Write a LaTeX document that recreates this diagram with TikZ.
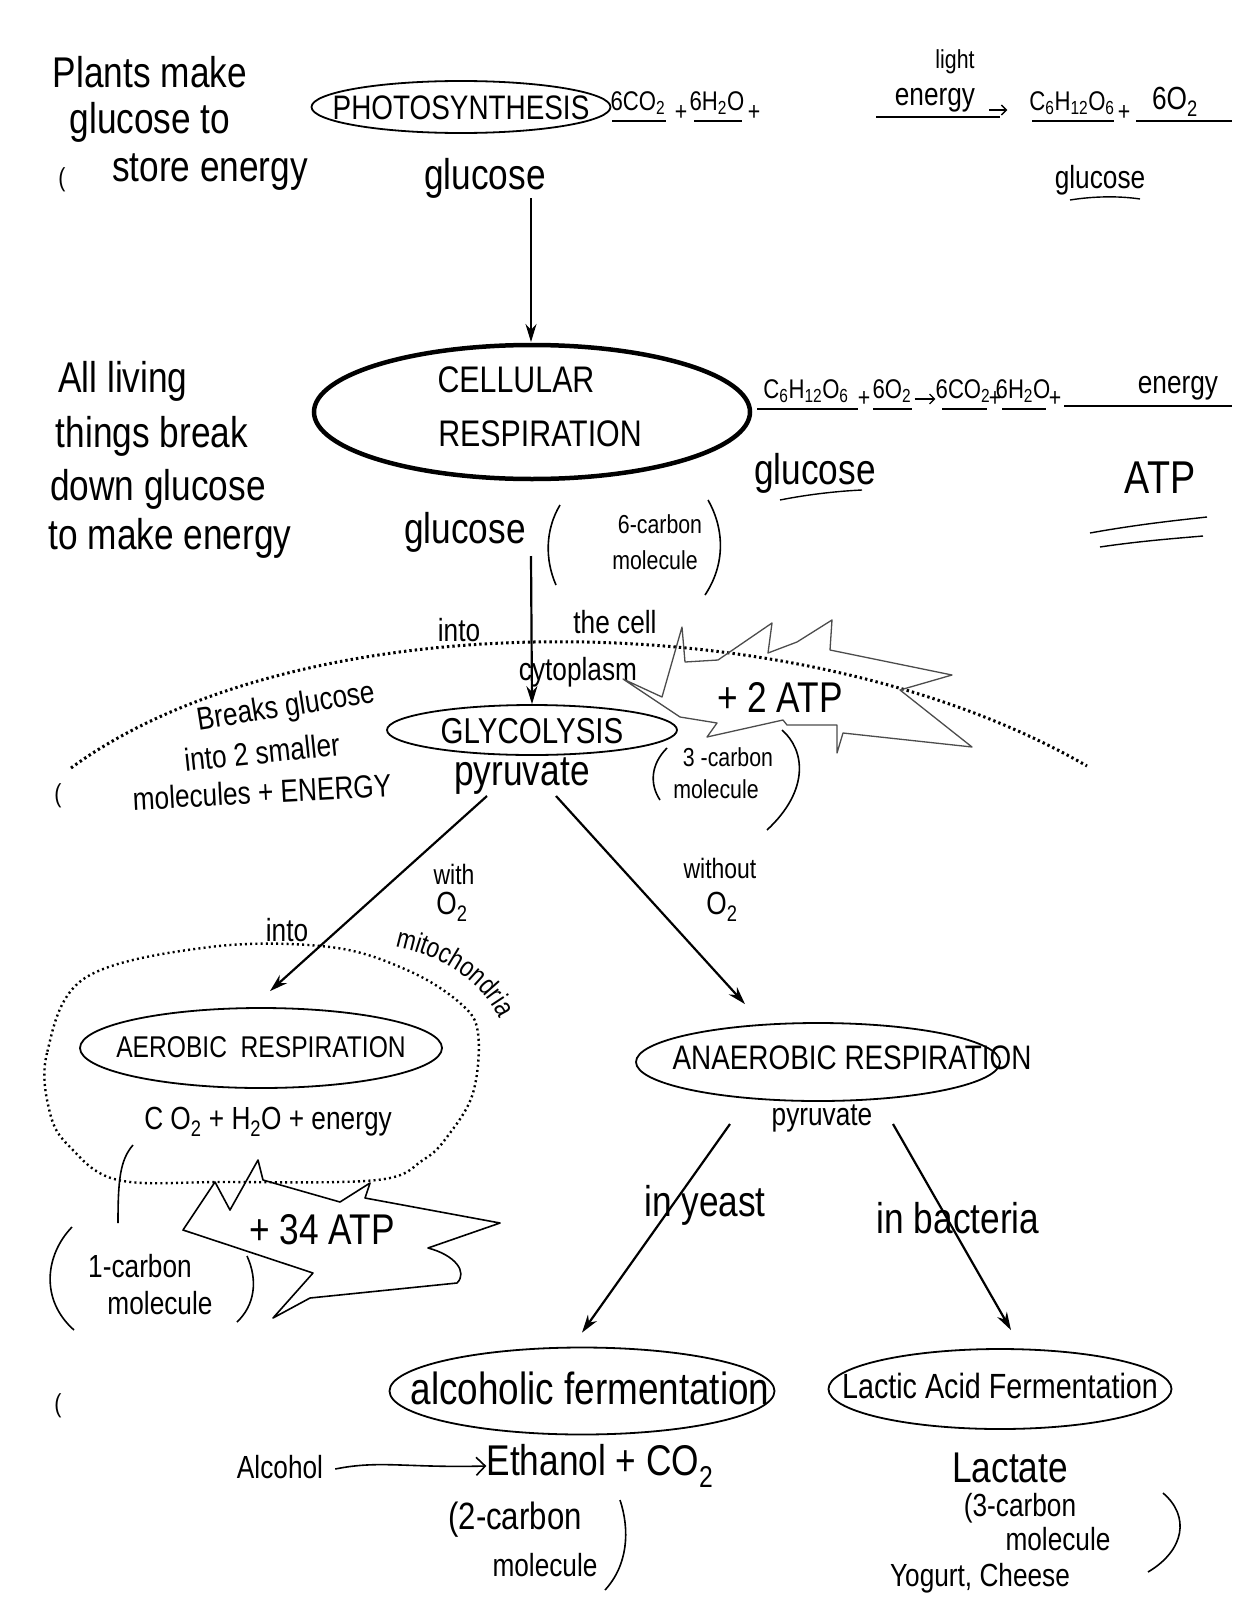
\documentclass[tikz,border=0pt]{standalone}
\usepackage{fontspec}
\setmainfont{Liberation Sans}[FakeStretch=0.82]
\usetikzlibrary{shapes.geometric,arrows.meta,decorations.text,calc}
\tikzset{
  hw/.style={inner sep=0pt, align=center, font=\fontsize{43}{48}\selectfont},
  md/.style={inner sep=0pt, align=center, font=\fontsize{32}{36}\selectfont},
  eq/.style={inner sep=0pt, align=center, font=\fontsize{27}{30}\selectfont},
  sm/.style={inner sep=0pt, align=center, font=\fontsize{26}{30}\selectfont},
  oval/.style={ellipse, draw, line width=1.8pt, inner sep=0pt},
  arr/.style={line width=2.2pt, -{Stealth[length=18pt,width=11pt]}},
  ul/.style={line width=1.4pt},
  dotline/.style={line width=3pt, dash pattern=on 2.4pt off 3pt},
  mitoline/.style={line width=2.4pt, dash pattern=on 2pt off 3.2pt},
  pen/.style={line width=1.6pt, line join=round},
  eqarr/.style={line width=1.3pt, -{Straight Barb[length=5pt]}}
}
\begin{document}
\begin{tikzpicture}[x=1pt,y=-1pt]
\useasboundingbox (0,0) rectangle (1236,1600);
\fill[white] (0,0) rectangle (1236,1600);

% ---------- top left note
\node[hw] (n1a) at (150,72) {Plants make};
\node[hw] (n1b) at (150,122) {glucose to};
\node[hw] (n1c) at (210,172) {store energy};
\node[sm] (p1) at (62,180) {(};

% ---------- photosynthesis
\node[oval, minimum width=299pt, minimum height=52pt] (photo) at (461,107) {};
\node[md, font=\fontsize{34}{36}\selectfont] (photot) at (461,108) {PHOTOSYNTHESIS};
\node[hw] (gl1) at (485,178) {glucose};

% equation 1
\node[eq] (e1a) at (638,103) {6CO\textsubscript{2}};
\node[sm] (e1p1) at (681,113) {+};
\node[eq] (e1b) at (717,103) {6H\textsubscript{2}O};
\node[sm] (e1p2) at (754,113) {+};
\node[sm] (e1l) at (955,62) {light};
\node[md] (e1c) at (935,100) {energy};
\node[eq] (e1d) at (1072,103) {C\textsubscript{6}H\textsubscript{12}O\textsubscript{6}};
\node[sm] (e1p3) at (1124,113) {+};
\node[md] (e1e) at (1175,102) {6O\textsubscript{2}};
\node[md] (e1g) at (1100,180) {glucose};
\draw[ul] (612,121) -- (666,121);
\draw[ul] (694,121) -- (742,121);
\draw[ul] (876,117) -- (1000,117);
\draw[ul] (1032,121) -- (1114,121);
\draw[ul] (1136,121) -- (1232,121);
\draw[ul] (1070,200) .. controls (1095,196) and (1120,196) .. (1140,199);
\draw[eqarr] (e1c.east) ++(14,10) -- ++(18,0);

% arrow 1
\coordinate (a1s) at (531,198);
\draw[arr] (a1s) -- (531,342);

% ---------- cellular respiration
\node[hw] (n2a) at (123,381) {All living};
\node[hw] (n2b) at (152,436) {things break};
\node[hw] (n2c) at (158,489) {down glucose};
\node[hw] (n2d) at (170,538) {to make energy};

\node[oval, line width=4.5pt, minimum width=436pt, minimum height=134pt] (cell) at (532,412) {};
\node[hw, font=\fontsize{37}{40}\selectfont] (cellt1) at (516,380) {CELLULAR};
\node[hw, font=\fontsize{37}{40}\selectfont] (cellt2) at (540,434) {RESPIRATION};

% equation 2
\node[eq] (e2a) at (806,391) {C\textsubscript{6}H\textsubscript{12}O\textsubscript{6}};
\node[sm] (e2p1) at (864,399) {+};
\node[eq] (e2b) at (892,391) {6O\textsubscript{2}};
\node[eq] (e2c) at (963,391) {6CO\textsubscript{2}};
\node[sm] (e2p2) at (995,399) {+};
\node[eq] (e2d) at (1023,391) {6H\textsubscript{2}O};
\node[sm] (e2p3) at (1055,399) {+};
\node[md] (e2e) at (1178,388) {energy};
\draw[ul] (757,409) -- (858,409);
\draw[ul] (873,409) -- (912,409);
\draw[eqarr] (e2b.east) ++(3,8) -- (e2c.west |- 0,399);
\draw[ul] (942,409) -- (987,409);
\draw[ul] (1002,409) -- (1046,409);
\draw[ul] (1064,406) -- (1232,406);
\node[hw] (e2g) at (815,473) {glucose};
\draw[ul] (780,500) .. controls (810,494) and (840,491) .. (862,490);
\node[hw, font=\fontsize{46}{50}\selectfont] (atp) at (1160,478) {ATP};
\draw[ul] (1090,533) .. controls (1140,524) and (1180,520) .. (1207,517);
\draw[ul] (1100,547) .. controls (1140,541) and (1180,538) .. (1203,536);

\node[hw] (gl2) at (465,532) {glucose};
\node[sm] (c6a) at (660,524) {6-carbon};
\node[sm] (c6b) at (655,560) {molecule};
\draw[pen] (560,505) .. controls (545,530) and (545,560) .. (556,585);
\draw[pen] (708,500) .. controls (725,530) and (725,565) .. (705,595);

% arrow 2
\coordinate (a2s) at (531,556);
\node[md] (into1) at (459,630) {into};
\node[md] (cellx) at (615,622) {the cell};
\node[md] (cyto) at (578,672) {cytoplasm};

% cell membrane
\draw[dotline] (71,768) .. controls (300,600) and (800,600) .. (1087,766);

\node[md, rotate=9] (br1) at (286,708) {Breaks glucose};
\node[md, rotate=6] (br2) at (262,752) {into 2 smaller};
\node[md, rotate=3] (br3) at (262,792) {molecules + ENERGY};
\node[sm] (p2) at (58,796) {(};

% ---------- glycolysis
\node[oval, minimum width=290pt, minimum height=50pt] (glyco) at (532,730) {};
\node[md, font=\fontsize{36}{40}\selectfont] (glycot) at (532,731) {GLYCOLYSIS};
\draw[arr] (a2s) -- (glyco.north);

% +2 ATP burst
\draw[pen, black!70, line width=1.3pt] (623,679) -- (662,697) -- (682,627) -- (685,662) -- (718,660)
  -- (772,623) -- (768,653) -- (797,642) -- (832,620) -- (830,650) -- (952,675) -- (900,690)
  -- (972,747) -- (843,733) -- (837,753) -- (837,725) -- (787,725) -- (783,720) -- (707,737)
  -- (717,723) -- (680,717) -- cycle;
\node[hw] (atp2) at (780,697) {+ 2 ATP};

\node[hw] (pyr1) at (522,776) {pyruvate};
\node[sm] (c3a) at (728,757) {3 -carbon};
\node[sm] (c3b) at (716,789) {molecule};
\draw[pen] (667,748) .. controls (650,765) and (650,785) .. (660,800);
\draw[pen] (782,730) .. controls (805,750) and (810,790) .. (767,830);

% branch arrows
\coordinate (pyrL) at (487,796);
\coordinate (pyrR) at (556,796);
\node[sm, font=\fontsize{28}{30}\selectfont] (with) at (454,874) {with};
\node[md] (withO) at (452,907) {O\textsubscript{2}};
\node[sm, font=\fontsize{28}{30}\selectfont] (wout) at (720,868) {without};
\node[md] (woutO) at (722,907) {O\textsubscript{2}};

% ---------- aerobic
\draw[mitoline] plot[smooth cycle, tension=0.6] coordinates {(85,978) (47,1053) (50,1113) (70,1147) (118,1180) (223,1182) (377,1180) (423,1160) (447,1137) (473,1093) (478,1033) (460,1003) (407,970) (330,947) (210,947)};
\node[oval, minimum width=362pt, minimum height=80pt] (aero) at (261,1048) {};
\node[md, font=\fontsize{30}{34}\selectfont] (aerot) at (261,1047) {AEROBIC\ \ RESPIRATION};
\node[md] (aeroP) at (268,1122) {C O\textsubscript{2} + H\textsubscript{2}O + energy};
\draw[arr] (pyrL) -- ($(aero.north)+(9,-16)$);
\node[md] (into2) at (287,930) {into};
\path[decorate, decoration={text along path, text align=center,
   text={|\fontsize{28}{30}\selectfont|mitochondria}}]
   (350,941) .. controls (432,944) and (503,980) .. (511,1062);

% 1-carbon
\draw[pen] (133,1145) .. controls (120,1160) and (118,1180) .. (118,1223);
\node[md] (c1a) at (140,1266) {1-carbon};
\node[md] (c1b) at (160,1303) {molecule};
\draw[pen] (72,1227) .. controls (45,1255) and (40,1300) .. (74,1330);
\draw[pen] (247,1256) .. controls (258,1280) and (255,1305) .. (237,1322);

% +34 ATP burst
\draw[pen] (183,1230) -- (215,1182) -- (230,1210) -- (258,1160) -- (263,1180) -- (340,1202)
  -- (370,1183) -- (365,1198) -- (500,1223) -- (428,1248)
  .. controls (455,1255) and (468,1272) .. (457,1283) -- (310,1298) -- (273,1318) -- (313,1273) -- cycle;
\node[hw] (atp34) at (322,1230) {+ 34 ATP};

% ---------- anaerobic
\node[oval, minimum width=364pt, minimum height=78pt] (anaero) at (818,1062) {};
\node[md, font=\fontsize{34}{38}\selectfont] (anaerot) at (852,1058) {ANAEROBIC RESPIRATION};
\draw[arr] (pyrR) -- ($(anaero.north)+(-73,-18)$);
\node[md] (pyr2) at (822,1118) {pyruvate};

\coordinate (anL) at (730,1124);
\coordinate (anR) at (893,1124);
\node[hw] (yeast) at (705,1205) {in yeast};
\node[hw] (bact) at (958,1218) {in bacteria};

% ---------- fermentations
\node[oval, minimum width=385pt, minimum height=87pt] (alc) at (582,1391) {};
\node[hw, font=\fontsize{45}{48}\selectfont] (alct) at (590,1388) {alcoholic fermentation};
\node[oval, minimum width=343pt, minimum height=80pt] (lac) at (1000,1389) {};
\node[hw, font=\fontsize{35}{40}\selectfont] (lact) at (1000,1386) {Lactic Acid Fermentation};
\draw[arr] (anL) -- ($(alc.north)+(0,-14)$);
\draw[arr] (anR) -- ($(lac.north)+(11,-18)$);

\node[md] (alcohol) at (280,1467) {Alcohol};
\node[hw] (ethanol) at (600,1466) {Ethanol + CO\textsubscript{2}};
\draw[pen, -{Straight Barb[length=9pt]}] (alcohol.east) ++(12,2) .. controls (380,1460) and (405,1468) .. (ethanol.west);
\node[hw, font=\fontsize{38}{40}\selectfont] (c2a) at (515,1520) {(2-carbon};
\node[md] (c2b) at (545,1565) {molecule};
\draw[pen] (620,1500) .. controls (630,1530) and (628,1565) .. (605,1590);

\node[hw] (lactate) at (1010,1468) {Lactate};
\node[md] (c3c) at (1020,1508) {(3-carbon};
\node[md] (c3d) at (1058,1539) {molecule};
\draw[pen] (1163,1493) .. controls (1190,1516) and (1185,1550) .. (1148,1572);
\node[md, font=\fontsize{32}{36}\selectfont] (yog) at (980,1578) {Yogurt, Cheese};
\node[sm] (p3) at (58,1406) {(};
\end{tikzpicture}
\end{document}
